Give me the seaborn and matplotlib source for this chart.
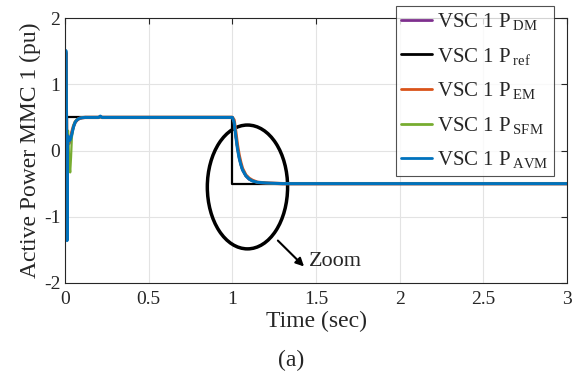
import numpy as np
import pandas as pd
import seaborn as sns
import matplotlib
matplotlib.use("Agg")
import matplotlib.pyplot as plt
from matplotlib.patches import Ellipse

sns.set_style("white")
plt.rcParams['font.family'] = ['Liberation Serif', 'DejaVu Serif']
plt.rcParams['mathtext.fontset'] = 'custom'
plt.rcParams['mathtext.rm'] = 'Liberation Serif'
plt.rcParams['mathtext.it'] = 'Liberation Serif:italic'
plt.rcParams['axes.unicode_minus'] = False

# ---- data ----
t_ref = [0.0, 0.012, 0.012, 1.0, 1.0, 3.0]
p_ref = [0.0, 0.0, 0.5, 0.5, -0.5, -0.5]

t_sim = [0.0, 0.004, 0.008, 0.011, 0.014, 0.017, 0.02, 0.025, 0.03, 0.035, 0.04,
         0.05, 0.06, 0.07, 0.08, 0.09, 0.10, 0.12, 0.15, 0.20, 0.21, 0.22, 0.5,
         1.0, 1.01, 1.02, 1.03, 1.04, 1.05, 1.06, 1.08, 1.10, 1.12, 1.15, 1.20,
         1.25, 1.30, 1.40, 3.0]
p_dm = [0.0, 1.45, 0.4, -1.25, 0.0, 0.15, 0.12, 0.1, 0.14, 0.2, 0.26,
        0.36, 0.42, 0.45, 0.47, 0.48, 0.49, 0.495, 0.5, 0.5, 0.51, 0.5, 0.5,
        0.5, 0.42, 0.2, 0.02, -0.12, -0.22, -0.3, -0.39, -0.44, -0.46, -0.48, -0.49,
        -0.495, -0.5, -0.5, -0.5]
p_em = [0.0, 1.48, 0.3, -1.0, 0.05, 0.2, 0.18, 0.14, 0.16, 0.22, 0.28,
        0.37, 0.43, 0.46, 0.48, 0.49, 0.495, 0.5, 0.5, 0.5, 0.51, 0.5, 0.5,
        0.5, 0.46, 0.28, 0.08, -0.07, -0.18, -0.27, -0.37, -0.42, -0.45, -0.48, -0.49,
        -0.495, -0.5, -0.5, -0.5]
p_sfm = [0.0, 1.4, 0.3, -1.1, 0.1, 0.3, 0.1, -0.2, -0.33, -0.1, 0.2,
         0.38, 0.44, 0.47, 0.48, 0.49, 0.495, 0.5, 0.5, 0.5, 0.51, 0.5, 0.5,
         0.5, 0.43, 0.22, 0.03, -0.11, -0.21, -0.29, -0.38, -0.43, -0.46, -0.48, -0.49,
         -0.495, -0.5, -0.5, -0.5]
p_avm = [0.0, 1.51, 0.5, -1.36, 0.05, 0.22, 0.17, 0.15, 0.16, 0.2, 0.25,
         0.36, 0.43, 0.46, 0.48, 0.49, 0.495, 0.5, 0.5, 0.5, 0.52, 0.5, 0.5,
         0.5, 0.43, 0.22, 0.03, -0.11, -0.21, -0.29, -0.38, -0.43, -0.46, -0.48, -0.49,
         -0.495, -0.5, -0.5, -0.5]

labels = [r"VSC 1 P$\,_{\mathrm{DM}}$", r"VSC 1 P$\,_{\mathrm{ref}}$", r"VSC 1 P$\,_{\mathrm{EM}}$",
          r"VSC 1 P$\,_{\mathrm{SFM}}$", r"VSC 1 P$\,_{\mathrm{AVM}}$"]
colors = ["#7E2F8E", "#000000", "#D95319", "#77AC30", "#0072BD"]
widths = [1.6, 1.6, 2.4, 1.6, 2.2]

xticks = [0, 0.5, 1, 1.5, 2, 2.5, 3]
xticklabels = ["0", "0.5", "1", "1.5", "2", "2.5", "3"]
yticks = [-2, -1, 0, 1, 2]

fig = plt.figure(figsize=(5.82, 3.85), dpi=100)
ax = fig.add_axes([0.112, 0.265, 0.862, 0.688])

series = [(t_sim, p_dm), (t_ref, p_ref), (t_sim, p_em), (t_sim, p_sfm), (t_sim, p_avm)]
for (tt, pp), lab, c, lw in zip(series, labels, colors, widths):
    sns.lineplot(x=tt, y=pp, ax=ax, color=c, linewidth=lw, label=lab,
                 estimator=None, sort=False)

ax.set_xlim(0, 3)
ax.set_ylim(-2, 2)
ax.set_xticks(xticks)
ax.set_xticklabels(xticklabels)
ax.set_yticks(yticks)
ax.grid(True, color="#e3e3e3", linewidth=0.8)
ax.tick_params(direction="in", length=4, labelsize=14, top=True, right=True, width=0.8, colors="#262626")
ax.tick_params(axis="x", pad=6)
for s in ax.spines.values():
    s.set_color("#262626")
    s.set_linewidth(0.8)
ax.set_xlabel("Time (sec)", fontsize=17, labelpad=2)
ax.set_ylabel("Active Power MMC 1 (pu)", fontsize=17, labelpad=2)

ell = Ellipse((1.09, -0.55), 0.48, 1.87, fill=False, edgecolor="black", linewidth=2.5)
ax.add_patch(ell)
ax.annotate("", xy=(1.44, -1.78), xytext=(1.26, -1.33),
            arrowprops=dict(arrowstyle="-|>", color="black", lw=1.5, mutation_scale=12))
ax.text(1.46, -1.67, "Zoom", fontsize=16, va="center", ha="left")

leg = ax.legend(loc="upper right", bbox_to_anchor=(554/582, 1 - 6/385),
                bbox_transform=fig.transFigure, fontsize=15, frameon=True, fancybox=False,
                handlelength=1.5, handletextpad=0.25, labelspacing=0.65, borderpad=0.25,
                borderaxespad=0)
leg.get_frame().set_edgecolor("#262626")
leg.get_frame().set_linewidth(0.8)
for h in leg.get_lines():
    h.set_linewidth(2)

fig.text(0.5, 0.065, "(a)", ha="center", va="center", fontsize=17)

fig.savefig("out.png", dpi=100)
